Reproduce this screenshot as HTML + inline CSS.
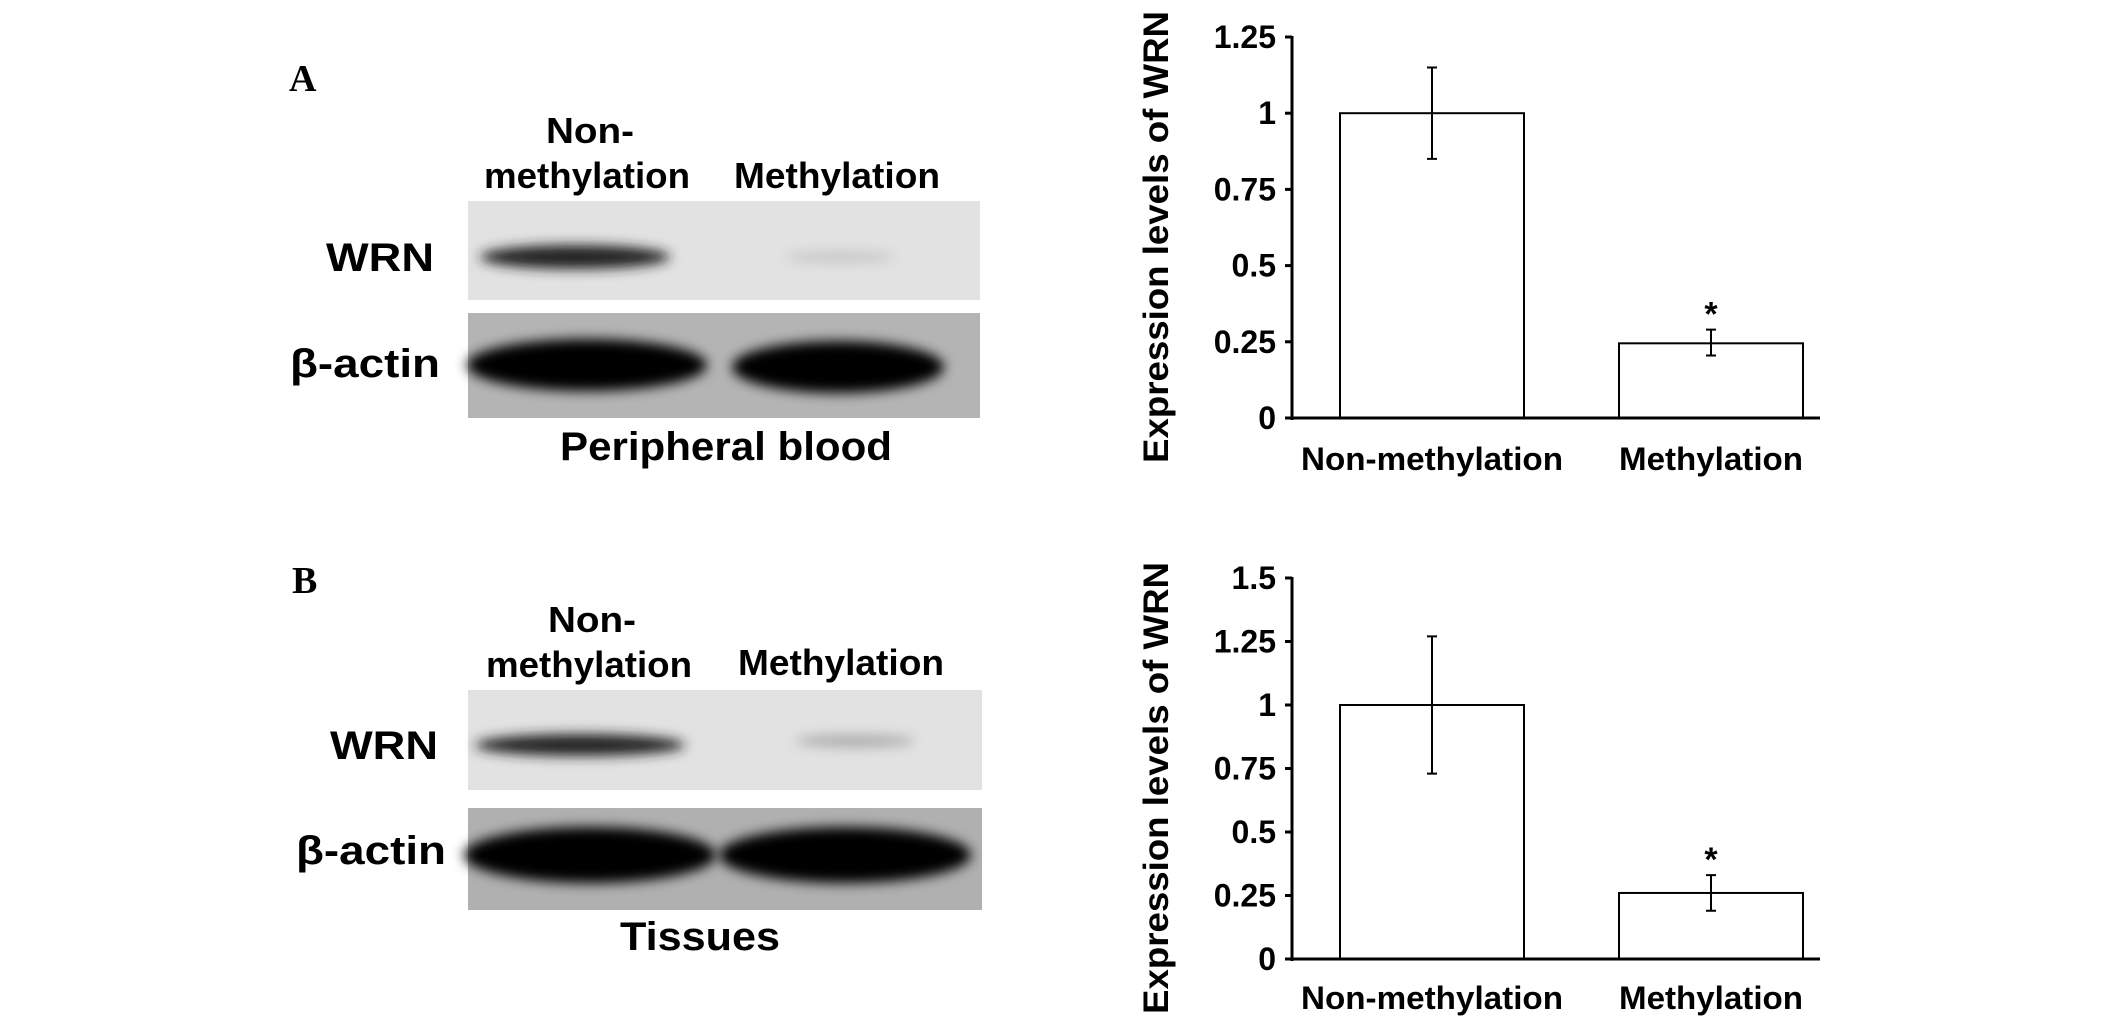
<!DOCTYPE html>
<html><head><meta charset="utf-8">
<style>
html,body{margin:0;padding:0;background:#fff;width:2126px;height:1024px;overflow:hidden}
svg text{font-family:"Liberation Sans",Arial,sans-serif;font-weight:bold;fill:#000}
</style></head>
<body>
<svg id="fig" width="2126" height="1024" viewBox="0 0 2126 1024" xmlns="http://www.w3.org/2000/svg">
<defs>
<filter id="b6" x="-50%" y="-100%" width="200%" height="300%"><feGaussianBlur stdDeviation="6"/></filter>
</defs>

<g>
<text x="289" y="91" style="font-family:'Liberation Serif',serif;font-size:38px">A</text>
<text x="590" y="143" text-anchor="middle" font-size="36" textLength="88" lengthAdjust="spacingAndGlyphs">Non-</text>
<text x="587" y="188" text-anchor="middle" font-size="36" textLength="206" lengthAdjust="spacingAndGlyphs">methylation</text>
<text x="837" y="188" text-anchor="middle" font-size="36" textLength="206" lengthAdjust="spacingAndGlyphs">Methylation</text>
<rect x="468" y="201" width="512" height="99" fill="#e2e2e2"/>
<ellipse cx="575" cy="257" rx="95" ry="12" fill="#222" filter="url(#b6)"/>
<ellipse cx="840" cy="257" rx="55" ry="6" fill="#c8c8c8" filter="url(#b6)"/>
<rect x="468" y="313" width="512" height="105" fill="#b4b4b4"/>
<ellipse cx="587" cy="365" rx="120" ry="26" fill="#000" filter="url(#b6)"/>
<ellipse cx="838" cy="367" rx="106" ry="26" fill="#000" filter="url(#b6)"/>
<text x="434" y="271" text-anchor="end" font-size="40" textLength="108" lengthAdjust="spacingAndGlyphs">WRN</text>
<text x="440" y="377" text-anchor="end" font-size="40" textLength="150" lengthAdjust="spacingAndGlyphs">β-actin</text>
<text x="726" y="460" text-anchor="middle" font-size="40" textLength="332" lengthAdjust="spacingAndGlyphs">Peripheral blood</text>
</g>

<g>
<text x="292" y="593" style="font-family:'Liberation Serif',serif;font-size:38px">B</text>
<text x="592" y="632" text-anchor="middle" font-size="36" textLength="88" lengthAdjust="spacingAndGlyphs">Non-</text>
<text x="589" y="677" text-anchor="middle" font-size="36" textLength="206" lengthAdjust="spacingAndGlyphs">methylation</text>
<text x="841" y="675" text-anchor="middle" font-size="36" textLength="206" lengthAdjust="spacingAndGlyphs">Methylation</text>
<rect x="468" y="690" width="514" height="100" fill="#e2e2e2"/>
<ellipse cx="580" cy="745" rx="105" ry="11" fill="#222" filter="url(#b6)"/>
<ellipse cx="855" cy="741" rx="60" ry="6" fill="#aaa" filter="url(#b6)"/>
<rect x="468" y="808" width="514" height="102" fill="#b0b0b0"/>
<ellipse cx="590" cy="855" rx="126" ry="28" fill="#000" filter="url(#b6)"/>
<ellipse cx="845" cy="855" rx="126" ry="28" fill="#000" filter="url(#b6)"/>
<text x="438" y="759" text-anchor="end" font-size="40" textLength="108" lengthAdjust="spacingAndGlyphs">WRN</text>
<text x="446" y="864" text-anchor="end" font-size="40" textLength="150" lengthAdjust="spacingAndGlyphs">β-actin</text>
<text x="700" y="950" text-anchor="middle" font-size="40" textLength="160" lengthAdjust="spacingAndGlyphs">Tissues</text>
</g>

<g id="chartA"></g>
<g id="chartB"></g>
</svg>
<script>
const categories = ["Non-methylation", "Methylation"];
const valuesA = [1.0, 0.245];
const errHiA = [1.15, 0.29];
const errLoA = [0.85, 0.205];
const ticksA = [0, 0.25, 0.5, 0.75, 1, 1.25];
const tickLabelsA = ["0", "0.25", "0.5", "0.75", "1", "1.25"];
const valuesB = [1.0, 0.26];
const errHiB = [1.27, 0.33];
const errLoB = [0.73, 0.19];
const ticksB = [0, 0.25, 0.5, 0.75, 1, 1.25, 1.5];
const tickLabelsB = ["0", "0.25", "0.5", "0.75", "1", "1.25", "1.5"];
const sigMarks = ["", "*"];

const NS = "http://www.w3.org/2000/svg";
function mk(tag, attrs, parent){
  const e = document.createElementNS(NS, tag);
  for (const k in attrs) e.setAttribute(k, attrs[k]);
  parent.appendChild(e); return e;
}
function drawChart(g, vals, hi, lo, ticks, tickLabels, cfg){
  const y = v => cfg.y0 - v / cfg.max * (cfg.y0 - cfg.yTop);
  const axX = 1292, axEnd = 1820;
  const barX = i => 1340 + i * 279, barW = 184;
  const ya = mk("line", {x1:axX, y1:y(cfg.max)-1, x2:axX, y2:cfg.y0+2, stroke:"#000","stroke-width":3}, g);
  
  
  ticks.forEach((t, i) => {
    const tl = mk("line", {x1:axX-7, y1:y(t), x2:axX, y2:y(t), stroke:"#000","stroke-width":3}, g);
    
    
    const tx = mk("text", {x:axX-16, y:y(t)+11, "text-anchor":"end", "font-size":32}, g);
    tx.textContent = tickLabels[i];
    
    
  });
  vals.forEach((v, i) => {
    const b = mk("rect", {x:barX(i), y:y(v), width:barW, height:cfg.y0 - y(v), fill:"#fff", stroke:"#000","stroke-width":2}, g);
    
    
    const cx = barX(i) + barW/2;
    const eb = mk("path", {d:`M${cx-5},${y(hi[i])}H${cx+5}M${cx},${y(hi[i])}V${y(lo[i])}M${cx-5},${y(lo[i])}H${cx+5}`, stroke:"#000","stroke-width":2, fill:"none"}, g);
    
    
    if (sigMarks[i]) {
      const s = mk("text", {x:cx, y:y(hi[i]) - 4, "text-anchor":"middle", "font-size":34}, g);
      s.textContent = sigMarks[i];
      
      
    }
    const cl = mk("text", {x:cx, y:cfg.catY, "text-anchor":"middle", "font-size":32, textLength: i===0?262:184, lengthAdjust:"spacingAndGlyphs"}, g);
    cl.textContent = categories[i];
    
    
  });
  const xa = mk("line", {x1:axX-1, y1:cfg.y0, x2:axEnd, y2:cfg.y0, stroke:"#000","stroke-width":3}, g);
  
  
  const tt = mk("text", {x:0, y:0, "text-anchor":"middle", "font-size":35, textLength:cfg.titleLen, lengthAdjust:"spacingAndGlyphs", transform:`translate(${cfg.titleX},${cfg.titleY}) rotate(-90)`}, g);
  tt.textContent = "Expression levels of WRN";
  
  
}
drawChart(document.getElementById("chartA"), valuesA, errHiA, errLoA, ticksA, tickLabelsA,
  {y0:418, yTop:37, max:1.25, catY:470, titleX:1168, titleY:237, titleLen:452});
drawChart(document.getElementById("chartB"), valuesB, errHiB, errLoB, ticksB, tickLabelsB,
  {y0:959, yTop:578, max:1.5, catY:1009, titleX:1168, titleY:788, titleLen:452});
</script>
</body></html>
